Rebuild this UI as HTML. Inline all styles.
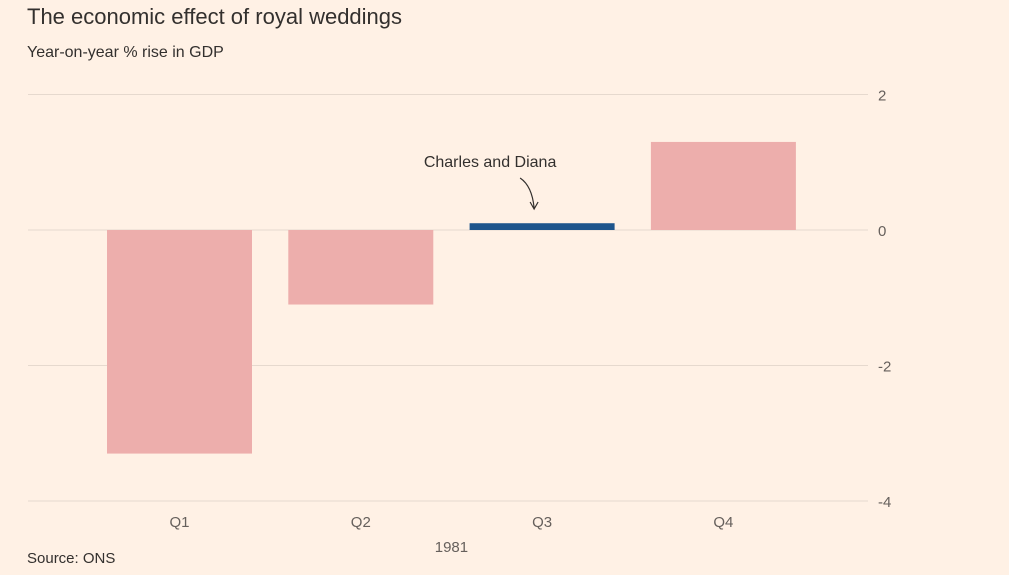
<!DOCTYPE html>
<html><head><meta charset="utf-8">
<style>
html,body{margin:0;padding:0;background:#fff1e5;}
body{width:1009px;height:575px;overflow:hidden;font-family:"Liberation Sans",sans-serif;color:#33302e;position:relative;}
#title{position:absolute;left:27px;top:4px;font-size:22px;color:#33302e;}
#sub{position:absolute;left:27px;top:44px;font-size:16px;color:#33302e;}
#src{position:absolute;left:27px;top:550px;font-size:15px;color:#33302e;}
svg{position:absolute;left:0;top:0;}
</style></head><body>
<div id="title">The economic effect of royal weddings</div>
<div id="sub">Year-on-year % rise in GDP</div>
<div id="src">Source: ONS</div>
<svg id="chart" width="1009" height="575"></svg>
<script>
const categories=["Q1","Q2","Q3","Q4"];
const values=[-3.3,-1.1,0.1,1.3];
const highlight=[false,false,true,false];
const yTicks=[2,0,-2,-4];
const xTitle="1981";
const annotation="Charles and Diana";

const NS="http://www.w3.org/2000/svg";
const svg=document.getElementById('chart');
const y0=230, unit=67.75;
function y(v){return y0-v*unit;}
function bandX(i){return 107+i*181.3;}
const bw=145;
function mk(t,a){const e=document.createElementNS(NS,t);for(const k in a)e.setAttribute(k,a[k]);svg.appendChild(e);return e;}
yTicks.forEach(t=>{
  const g=mk('line',{x1:28,x2:868,y1:y(t),y2:y(t),stroke:'#e6d9ce','stroke-width':1});
  
  
  const l=mk('text',{x:878,y:y(t)+6,'font-size':15,fill:'#66605c','font-family':'Liberation Sans, sans-serif'});
  l.textContent=t<0?'-'+Math.abs(t):String(t);
  
  
});
categories.forEach((c,i)=>{
  const v=values[i];
  const top=Math.min(y(v),y(0)), h=Math.abs(y(v)-y(0));
  const r=mk('rect',{x:bandX(i),y:top,width:bw,height:Math.max(h,1),fill:highlight[i]?'#1e558c':'#edaeac'});
  
  
  const t=mk('text',{x:bandX(i)+bw/2,y:527,'font-size':15,fill:'#66605c','text-anchor':'middle','font-family':'Liberation Sans, sans-serif'});
  t.textContent=c;
  
  
});
const xt=mk('text',{x:bandX(1.5)+bw/2,y:552,'font-size':15,fill:'#66605c','text-anchor':'middle','font-family':'Liberation Sans, sans-serif'});
xt.textContent=xTitle;


const ai=categories.indexOf("Q3");
const ax=bandX(ai)+bw/2-8;
const at=mk('text',{x:ax-44,y:167,'font-size':16,fill:'#33302e','text-anchor':'middle','font-family':'Liberation Sans, sans-serif'});
at.textContent=annotation;


const ar=mk('path',{d:`M${ax-14} 178 Q${ax-2} 186 ${ax} 208 M${ax-4} 202 L${ax} 209 L${ax+4} 202`,stroke:'#33302e',fill:'none','stroke-width':1.2});


</script>
</body></html>
